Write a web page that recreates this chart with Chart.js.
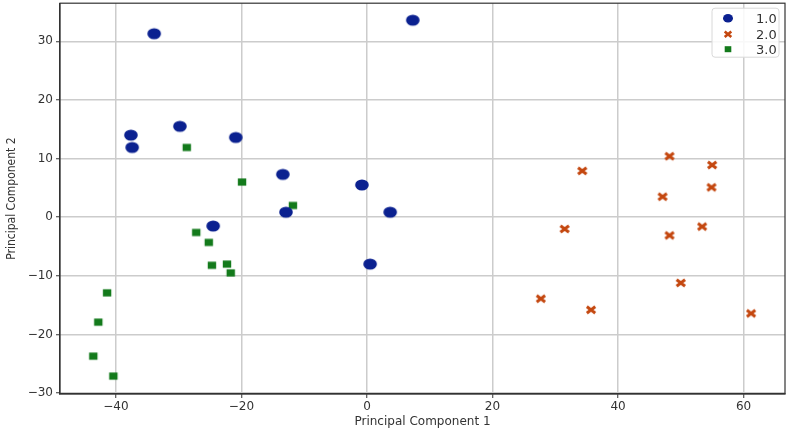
<!DOCTYPE html>
<html>
<head>
<meta charset="utf-8">
<script src="https://cdn.jsdelivr.net/npm/chart.js@4/dist/chart.umd.min.js"></script>
<style>
  html, body { margin: 0; padding: 0; background: #fff; overflow: hidden; }
  #wrap { width: 800px; height: 432px; position: relative; overflow: hidden; }
  #c { position: absolute; left: 0; top: -7px; }
</style>
</head>
<body>
<div id="wrap"><canvas id="c" width="800" height="439"></canvas></div>
<script>
// Data
const seriesLabels = ['1.0', '2.0', '3.0'];
const class1X = [-33.9, 7.3, -37.6, -37.4, -29.8, -20.9, -13.4, -12.9, -24.5, -0.8, 3.7, 0.5];
const class1Y = [31.3, 33.6, 14.0, 11.9, 15.5, 13.6, 7.3, 0.85, -1.5, 5.5, 0.85, -8.0];
const class2X = [48.2, 55.0, 34.3, 54.9, 47.1, 31.5, 48.2, 53.4, 50.0, 27.7, 35.7, 61.2];
const class2Y = [10.4, 8.9, 7.9, 5.1, 3.5, -2.0, -3.1, -1.6, -11.2, -13.9, -15.8, -16.4];
const class3X = [-28.7, -19.9, -11.8, -27.2, -25.2, -24.7, -22.3, -21.7, -41.4, -42.8, -43.6, -40.4];
const class3Y = [11.9, 6.0, 2.0, -2.6, -4.3, -8.2, -8.0, -9.5, -12.9, -17.9, -23.7, -27.1];
const xTicks = [-40, -20, 0, 20, 40, 60];
const yTicks = [-30, -20, -10, 0, 10, 20, 30];

const toPts = (xs, ys) => xs.map((x, i) => ({ x: x, y: ys[i] }));

const colors = ['#0b2190', '#c4470f', '#137a1b'];

// marker glyphs (slightly wider than tall, like the reference)
function makeMarker(kind, color) {
  const cv = document.createElement('canvas');
  const w = 16, h = 14;
  cv.width = w; cv.height = h;
  const g = cv.getContext('2d');
  g.fillStyle = color; g.strokeStyle = color;
  const cx = w / 2, cy = h / 2;
  if (kind === 0) {
    g.beginPath(); g.ellipse(cx, cy, 6.8, 5.6, 0, 0, Math.PI * 2); g.fill();
  } else if (kind === 1) {
    g.lineWidth = 3; g.lineCap = 'butt';
    g.beginPath();
    g.moveTo(cx - 4.2, cy - 3.2); g.lineTo(cx + 4.2, cy + 3.2);
    g.moveTo(cx + 4.2, cy - 3.2); g.lineTo(cx - 4.2, cy + 3.2);
    g.stroke();
  } else {
    g.fillRect(cx - 4.2, cy - 3.6, 8.4, 7.2);
  }
  return cv;
}
const seriesX = [class1X, class2X, class3X];
const seriesY = [class1Y, class2Y, class3Y];

const datasets = seriesLabels.map((lab, i) => ({
  label: lab,
  data: toPts(seriesX[i], seriesY[i]),
  backgroundColor: colors[i],
  borderColor: colors[i],
  pointStyle: makeMarker(i, colors[i]),
  pointRadius: 7,
  pointHoverRadius: 7
}));

const framePlugin = {
  id: 'frame',
  afterDatasetsDraw(chart) {
    const { ctx, chartArea: a } = chart;
    ctx.save();
    ctx.strokeStyle = '#333';
    ctx.lineWidth = 1.2;
    ctx.strokeRect(a.left, a.top, a.right - a.left, a.bottom - a.top);
    // legend box
    const bx = a.right - 73, by = a.top + 5, bw = 67, bh = 49;
    ctx.fillStyle = 'rgba(255,255,255,0.85)';
    ctx.strokeStyle = '#d8d8d8';
    ctx.lineWidth = 1;
    ctx.beginPath();
    if (ctx.roundRect) ctx.roundRect(bx, by, bw, bh, 3); else ctx.rect(bx, by, bw, bh);
    ctx.fill();
    ctx.stroke();
    ctx.font = '13px "DejaVu Sans"';
    ctx.textBaseline = 'middle';
    ctx.textAlign = 'left';
    const rowY = [by + 10, by + 26, by + 41];
    const mx = bx + 16;
    seriesLabels.forEach((lab, i) => {
      const y = rowY[i];
      ctx.fillStyle = colors[i];
      ctx.strokeStyle = colors[i];
      if (i === 0) {
        ctx.beginPath();
        ctx.ellipse(mx, y, 5, 4.3, 0, 0, Math.PI * 2);
        ctx.fill();
      } else if (i === 1) {
        ctx.lineWidth = 2.6;
        ctx.beginPath();
        ctx.moveTo(mx - 3.3, y - 2.8); ctx.lineTo(mx + 3.3, y + 2.8);
        ctx.moveTo(mx + 3.3, y - 2.8); ctx.lineTo(mx - 3.3, y + 2.8);
        ctx.stroke();
      } else {
        ctx.fillRect(mx - 3.3, y - 3, 6.6, 6);
      }
      ctx.fillStyle = '#333';
      ctx.fillText(lab, bx + 44, y + 1);
    });
    ctx.restore();
  }
};

const keepTicks = (list) => (scale) => {
  scale.ticks = list.filter(v => v >= scale.min && v <= scale.max).map(v => ({ value: v }));
};

new Chart(document.getElementById('c'), {
  type: 'scatter',
  data: { datasets: datasets },
  options: {
    responsive: false,
    animation: false,
    events: [],
    layout: { padding: { left: 0, right: 15, top: 3, bottom: 0 } },
    plugins: {
      legend: { display: false },
      tooltip: { enabled: false }
    },
    scales: {
      x: {
        type: 'linear',
        min: -48.9,
        max: 66.6,
        afterBuildTicks: keepTicks(xTicks),
        afterFit: (s) => { s.height = 38; s.paddingLeft = 0; s.paddingRight = 0; },
        border: { display: true, color: '#333', width: 1.2 },
        grid: { color: '#cccccc', lineWidth: 1.5, tickLength: 4, tickColor: '#333', tickWidth: 1 },
        ticks: {
          color: '#333',
          font: { family: 'DejaVu Sans', size: 12 },
          padding: 2,
          maxRotation: 0,
          callback: (v) => (v < 0 ? '\u2212' + Math.abs(v) : String(v))
        },
        title: {
          display: true,
          text: 'Principal Component 1',
          color: '#333',
          font: { family: 'DejaVu Sans', size: 12 },
          padding: { top: 0, bottom: 3 }
        }
      },
      y: {
        type: 'linear',
        min: -30.15,
        max: 36.5,
        afterBuildTicks: keepTicks(yTicks),
        afterFit: (s) => { s.width = 60; },
        border: { display: true, color: '#333', width: 1.2 },
        grid: { color: '#cccccc', lineWidth: 1.5, tickLength: 4, tickColor: '#333', tickWidth: 1 },
        ticks: {
          color: '#333',
          font: { family: 'DejaVu Sans', size: 12 },
          padding: 3,
          callback: (v) => (v < 0 ? '\u2212' + Math.abs(v) : String(v))
        },
        title: {
          display: true,
          text: 'Principal Component 2',
          color: '#333',
          font: { family: 'Liberation Sans Narrow, DejaVu Sans Condensed, DejaVu Sans', size: 12 },
          padding: { top: 5, bottom: 0 }
        }
      }
    }
  },
  plugins: [framePlugin]
});
</script>
</body>
</html>
